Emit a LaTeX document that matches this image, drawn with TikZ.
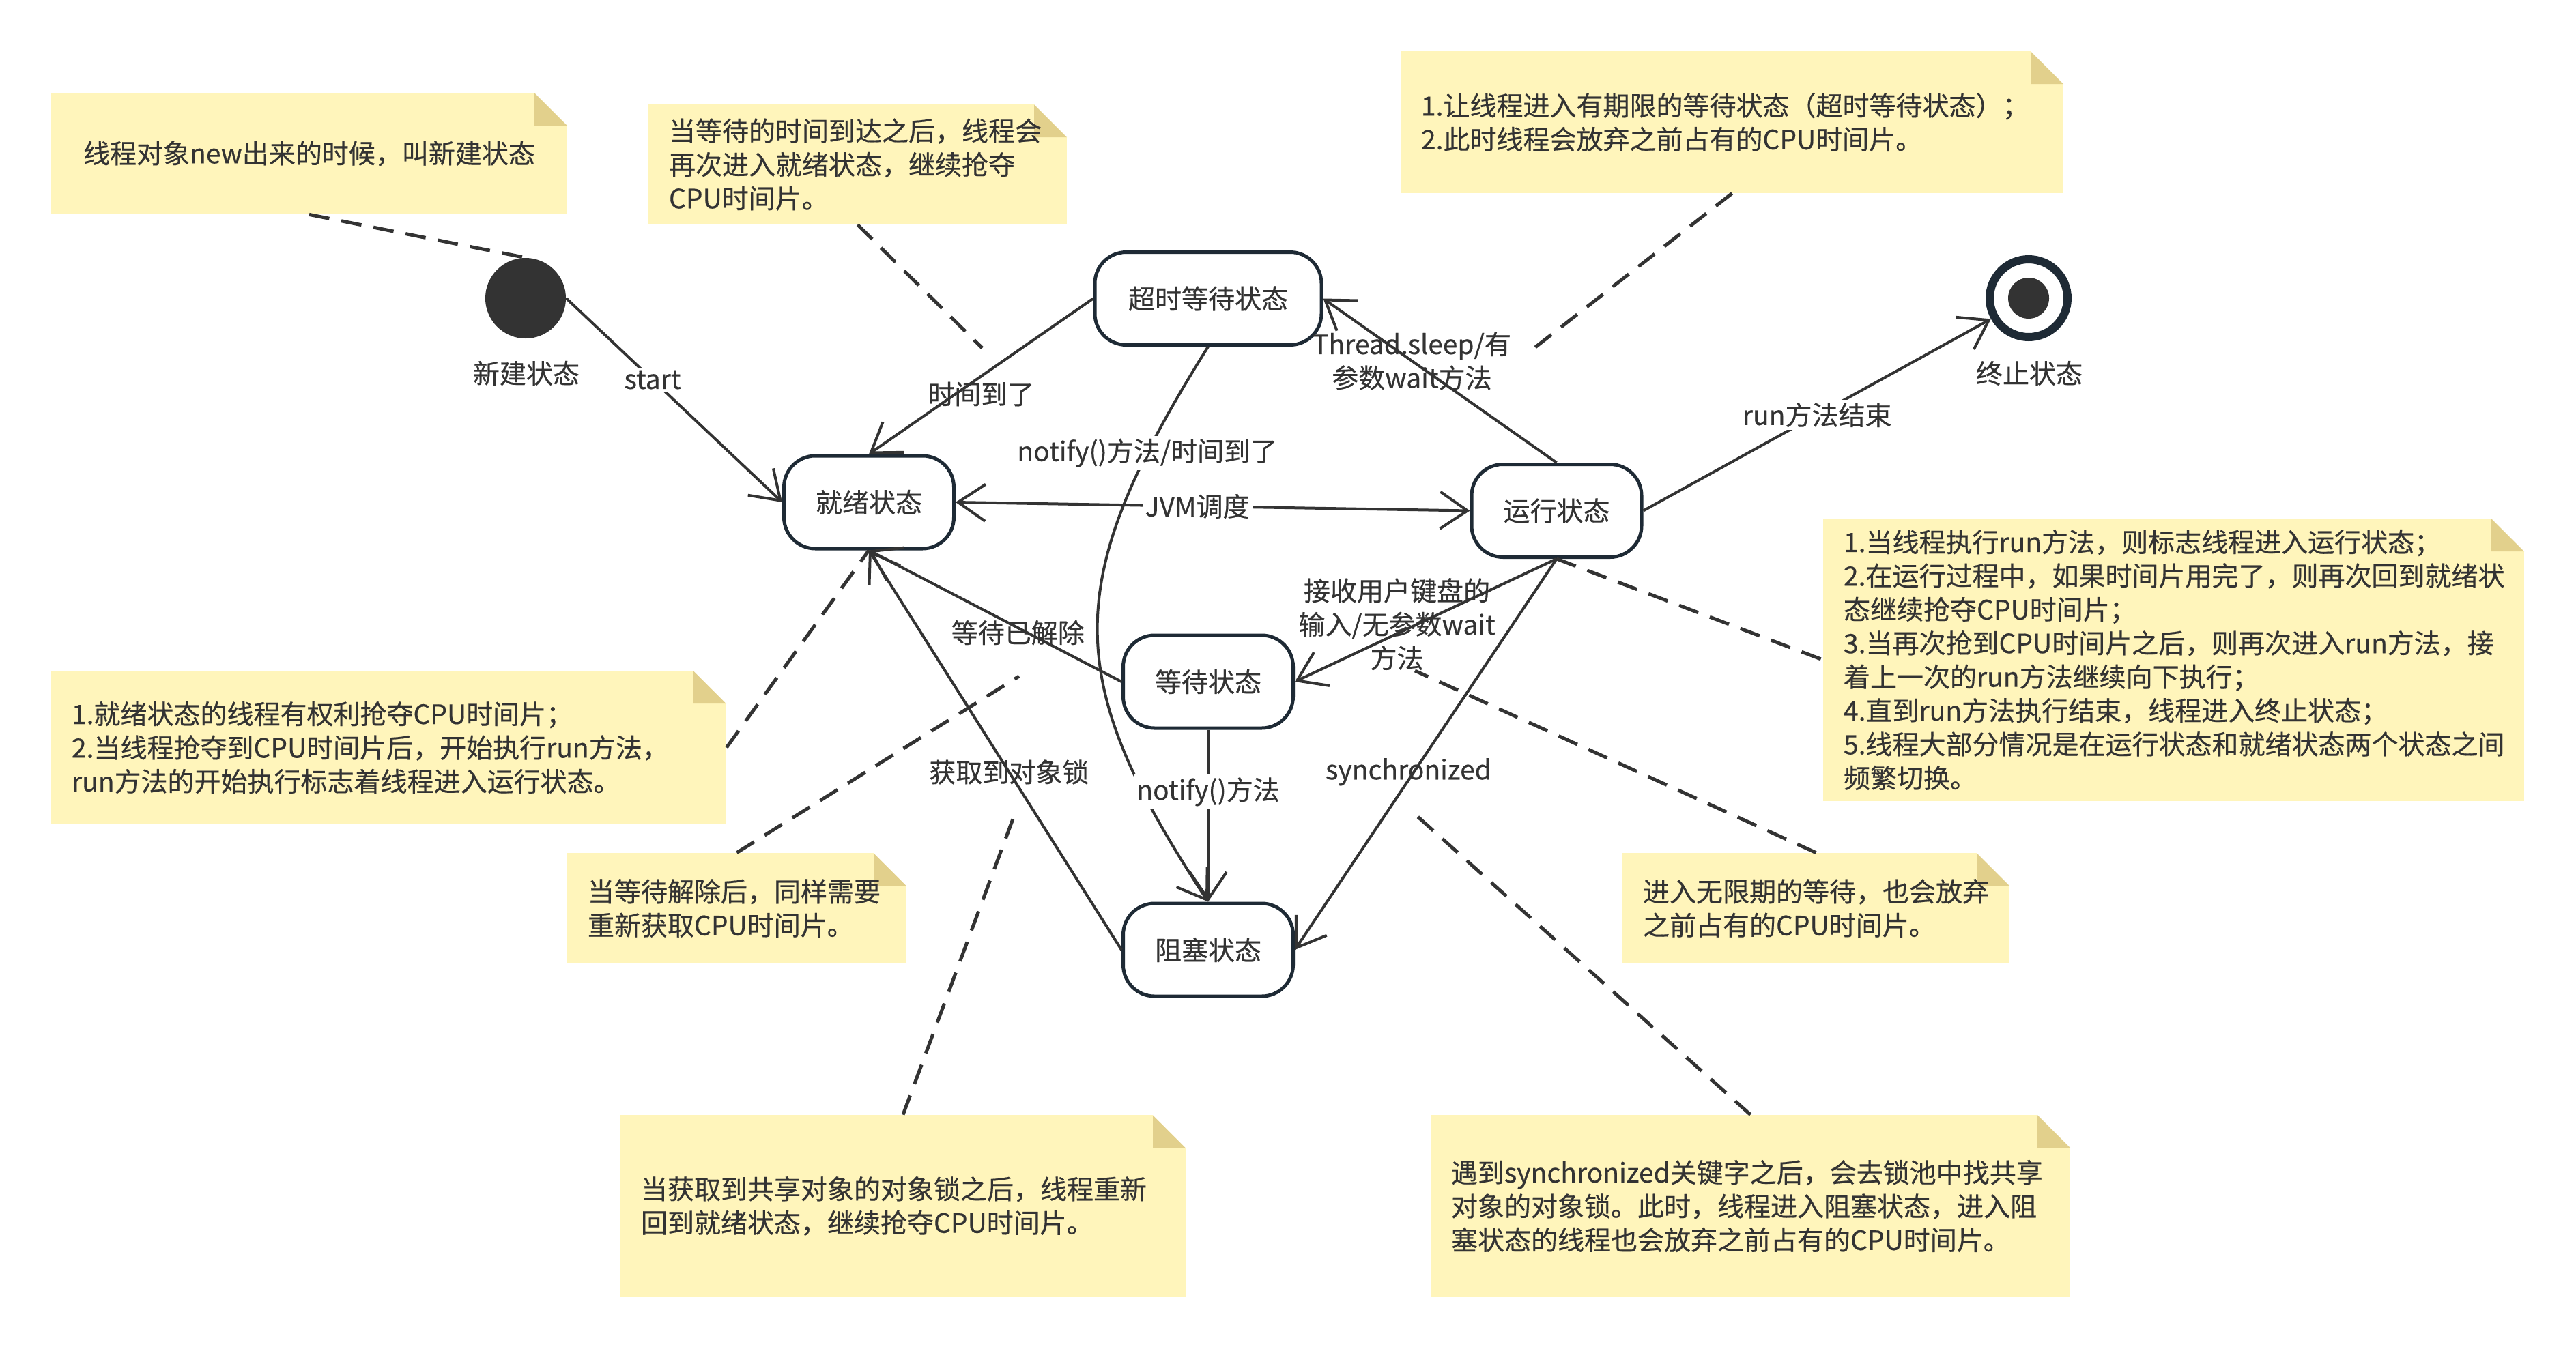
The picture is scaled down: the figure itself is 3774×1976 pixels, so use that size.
\documentclass[tikz,border=0pt]{standalone}
\usepackage{fontspec}
\setmainfont{Noto Sans CJK SC}[FakeBold=0.4]
\usetikzlibrary{arrows.meta,calc}
\definecolor{txt}{HTML}{333333}
\definecolor{notefill}{HTML}{FFF5BB}
\definecolor{notefold}{HTML}{E2D08C}
\definecolor{bordc}{HTML}{1E2A35}
\definecolor{edgec}{HTML}{333333}
\definecolor{dark}{HTML}{333333}

\newcommand\mknote[7]{%
  \pgfmathsetmacro\nbw{(#4-#2)*0.5}%
  \pgfmathsetmacro\nbh{(#5-#3)*0.5}%
  \pgfmathsetmacro\nbt{(#4-#2-60)*0.5}%
  \node[stickynote, minimum width=\nbw pt, minimum height=\nbh pt, text width=\nbt pt, align=#6] (#1) at ({(#2+#4)/2},{(#3+#5)/2}) {#7};%
}

\tikzset{
  every node/.style={text=txt, font=\fontsize{19.5pt}{24.7pt}\selectfont},
  >={Straight Barb[length=20pt,width=27pt]},
  stnode/.style={draw=bordc, line width=2.5pt, rounded corners=23pt, fill=white,
    minimum width=124.5pt, minimum height=68pt, inner sep=0pt},
  conn/.style={draw=edgec, line width=2pt, ->},
  lbl/.style={inner sep=2pt},
  lblw/.style={fill=white, inner sep=2pt},
  notelink/.style={draw=edgec, line width=2.5pt, dash pattern=on 15pt off 9pt},
  stickynote/.style={fill=notefill, inner xsep=15pt, inner ysep=0pt,
    path picture={
      \coordinate (ne) at (path picture bounding box.north east);
      \fill[notefold] ($(ne)+(-24pt,0pt)$) -- ($(ne)+(-24pt,-24pt)$) -- ($(ne)+(0pt,-24pt)$) -- cycle;
      \fill[white] ($(ne)+(-24pt,0pt)$) -- (ne) -- ($(ne)+(0pt,-24pt)$) -- cycle;
    }}
}

\begin{document}
\begin{tikzpicture}[x=0.5pt,y=-0.5pt]
\fill[white] (0,0) rectangle (3774,1976);
\useasboundingbox (0,0) rectangle (3774,1976);

% notes
\mknote{nA}{75}{136}{831}{314}{center}{线程对象new出来的时候，叫新建状态}
\mknote{nB}{950}{153}{1563}{329}{left}{当等待的时间到达之后，线程会\\再次进入就绪状态，继续抢夺\\CPU时间片。}
\mknote{nC}{2052}{75}{3023}{283}{left}{1.让线程进入有期限的等待状态（超时等待状态）；\\2.此时线程会放弃之前占有的CPU时间片。}
\mknote{nD}{75}{983}{1064}{1208}{left}{1.就绪状态的线程有权利抢夺CPU时间片；\\2.当线程抢夺到CPU时间片后，开始执行run方法，\\run方法的开始执行标志着线程进入运行状态。}
\mknote{nE}{831}{1250}{1328}{1412}{left}{当等待解除后，同样需要\\重新获取CPU时间片。}
\mknote{nF}{909}{1634}{1737}{1901}{left}{当获取到共享对象的对象锁之后，线程重新\\回到就绪状态，继续抢夺CPU时间片。}
\mknote{nG}{2096}{1634}{3033}{1901}{left}{遇到synchronized关键字之后，会去锁池中找共享\\对象的对象锁。此时，线程进入阻塞状态，进入阻\\塞状态的线程也会放弃之前占有的CPU时间片。}
\mknote{nH}{2377}{1250}{2944}{1412}{left}{进入无限期的等待，也会放弃\\之前占有的CPU时间片。}
\mknote{nI}{2671}{760}{3698}{1174}{left}{1.当线程执行run方法，则标志线程进入运行状态；\\2.在运行过程中，如果时间片用完了，则再次回到就绪状\\态继续抢夺CPU时间片；\\3.当再次抢到CPU时间片之后，则再次进入run方法，接\\着上一次的run方法继续向下执行；\\4.直到run方法执行结束，线程进入终止状态；\\5.线程大部分情况是在运行状态和就绪状态两个状态之间\\频繁切换。}

% states
\node[circle, fill=dark, minimum size=59pt, inner sep=0pt] (init) at (770,437) {};
\node (initlbl) at (771,547) {新建状态};
\node[circle, draw=bordc, line width=6pt, minimum size=57pt, inner sep=0pt] (final) at (2972,437) {};
\node[circle, fill=dark, minimum size=30pt, inner sep=0pt] (finalin) at (2972,437) {};
\node (finallbl) at (2973,547) {终止状态};

\node[stnode, minimum width=166pt] (timed) at (1770,437.5) {超时等待状态};
\node[stnode] (ready) at (1273,736) {就绪状态};
\node[stnode] (running) at (2280.5,748.5) {运行状态};
\node[stnode] (waiting) at (1770,999) {等待状态};
\node[stnode] (blocked) at (1770,1392) {阻塞状态};

% free ends of note links
\coordinate (pB) at (1439,510);
\coordinate (pC) at (2244,513);
\coordinate (pE) at (1493,991);
\coordinate (pF) at (1490,1184);
\coordinate (pG) at (2066,1187);
\coordinate (pH) at (2073,983);

% note links
\draw[notelink] (nA.south) -- (init.north);
\draw[notelink] (nB.south) -- (pB);
\draw[notelink] (nC.south) -- (pC);
\draw[notelink] (nD.east) -- (ready.south);
\draw[notelink] (nE.north) -- (pE);
\draw[notelink] (nF.north) -- (pF);
\draw[notelink] (nG.north) -- (pG);
\draw[notelink] (nH.north) -- (pH);
\draw[notelink] (running.south) -- (nI.west);

% transitions
\draw[conn] (init.east) -- node[lblw,pos=0.4]{start} (ready.west);
\draw[conn] (timed.west) -- node[lbl,pos=0.5,yshift=-13pt]{时间到了} (ready.north);
\draw[conn] (timed.south) .. controls (1554,853) and (1554,993) .. node[lblw,pos=0.165]{notify()方法/时间到了} (blocked.north);
\draw[conn,<->] (ready.east) -- node[lblw,pos=0.47]{JVM调度} (running.west);
\draw[conn] (running.north) -- node[lbl,pos=0.62,align=center]{Thread.sleep/有\\参数wait方法} (timed.east);
\draw[conn] (running.east) -- node[lblw,pos=0.5]{run方法结束} (final);
\draw[conn] (running.south) -- node[lbl,pos=0.61,yshift=7pt,align=center]{接收用户键盘的\\输入/无参数wait\\方法} (waiting.east);
\draw[conn] (running.south) -- node[lbl,pos=0.566,yshift=6pt]{synchronized} (blocked.east);
\draw[conn] (waiting.west) -- node[lbl,pos=0.41,yshift=-3.5pt]{等待已解除} (ready.south);
\draw[conn] (blocked.west) -- node[lbl,pos=0.445]{获取到对象锁} (ready.south);
\draw[conn] (waiting.south) -- node[lblw,pos=0.36]{notify()方法} (blocked.north);
\end{tikzpicture}
\end{document}
